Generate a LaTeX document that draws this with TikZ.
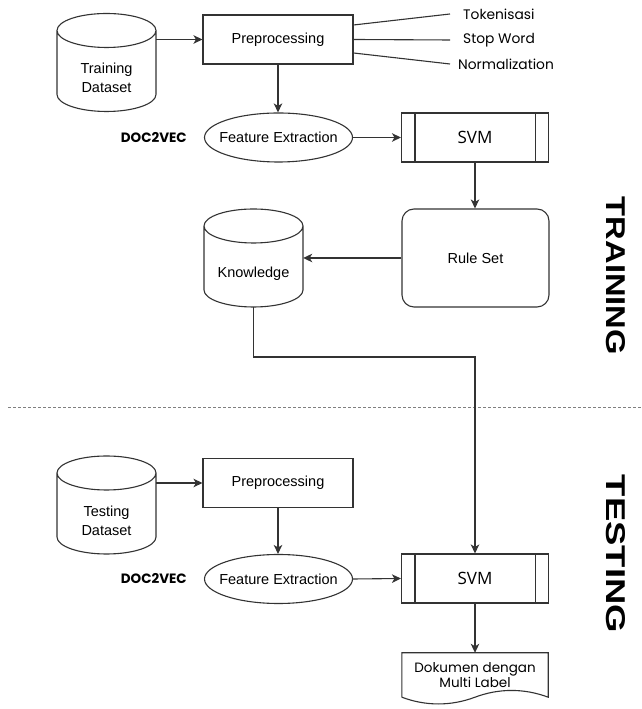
\documentclass[tikz,border=0pt]{standalone}
\usepackage{fontspec}
\setmainfont{Liberation Sans}
\newfontfamily\geofont{Poppins}
\newfontfamily\svmfont{Open Sans}
\usetikzlibrary{positioning,shapes.geometric,arrows.meta,calc}

\tikzset{
  lbl/.style={font=\fontsize{14.5}{19}\selectfont},
  ln/.style={line width=1.1pt, draw=black!80},
  arr/.style={ln, -{Stealth[length=9pt,width=8.5pt,inset=2.5pt]}},
  procbox/.style={ln, rectangle, minimum width=150pt, minimum height=49pt, inner sep=0},
  featell/.style={ln, ellipse, minimum width=148pt, minimum height=49pt, inner sep=0},
  svmbox/.style={ln, rectangle, minimum width=147pt, minimum height=49pt, inner sep=0,
    font=\svmfont\fontsize{17}{20}\selectfont},
  rulebox/.style={ln, rectangle, rounded corners=12pt, minimum width=147pt, minimum height=98pt, inner sep=0},
  steplbl/.style={inner sep=0, font=\geofont\fontsize{13.8}{16}\selectfont},
  veclbl/.style={inner sep=0, font=\geofont\bfseries\fontsize{13.5}{16}\selectfont},
  doclbl/.style={align=center, minimum width=146pt, minimum height=44pt, inner sep=0,
    font=\geofont\fontsize{13.5}{15.5}\selectfont},
  phaselbl/.style={rotate=-90, inner sep=0, font=\bfseries},
  pics/dbcyl/.style={code={
    \node[minimum width=99pt, minimum height=98pt, inner sep=0] (-box) {};
    \node[align=center, inner sep=0] (-text) at (0,-15.5) {#1};
    \draw[ln] (-49.5,32) -- (-49.5,-32)
      arc[start angle=180, end angle=360, x radius=49.5pt, y radius=17pt]
      -- (49.5,32)
      arc[start angle=0, end angle=180, x radius=49.5pt, y radius=17pt]
      arc[start angle=180, end angle=360, x radius=49.5pt, y radius=17pt];
  }}
}

\begin{document}
\begin{tikzpicture}[x=1pt, y=1pt, every node/.style={lbl}]
  \useasboundingbox[fill=white] (0,0) rectangle (641,709);

  % Training
  \pic (train) at (106.5,646.5) {dbcyl={Training\\Dataset}};
  \node[procbox] (pre1) at (278,669.5) {Preprocessing};
  \coordinate (tokend) at (450,695);
  \coordinate (stopend) at (450,669);
  \coordinate (normend) at (450,645);
  \node[steplbl, right=13pt of tokend] (tok) {Tokenisasi};
  \node[steplbl, right=13pt of stopend] (stop) {Stop Word};
  \node[steplbl, right=8pt of normend] (norm) {Normalization};
  \node[featell] (fe1) at (278.5,571.5) {\makebox[0pt]{Feature Extraction}};
  \node[veclbl, left=17pt of fe1] (vec1) {DOC2VEC};
  \node[svmbox] (svm1) at (475,571.5) {SVM};
  \node[rulebox] (rule) at (475.5,451) {Rule Set};
  \pic (know) at (253.5,451) {dbcyl=Knowledge};

  \draw[arr] (train-box.east |- pre1.west) -- (pre1.west);
  \draw[ln] ([yshift=14.5pt]pre1.east) -- (tokend);
  \draw[ln] (pre1.east) -- (stopend);
  \draw[ln] ([yshift=-13.5pt]pre1.east) -- (normend);
  \draw[arr] (pre1.south) -- (pre1.south |- fe1.north);
  \draw[arr] (fe1.east) -- (svm1.west);
  \draw[arr] (svm1.south) -- (svm1.south |- rule.north);
  \draw[arr] (rule.west) -- (know-box.east);

  % separator
  \draw[gray, line width=1pt, dash pattern=on 3pt off 2pt] (8,301) -- (641,301);

  % Testing
  \pic (test) at (106.5,204) {dbcyl={Testing\\Dataset}};
  \node[procbox] (pre2) at (278,226) {Preprocessing};
  \node[featell] (fe2) at (278.5,130) {\makebox[0pt]{Feature Extraction}};
  \node[veclbl, left=17pt of fe2] (vec2) {DOC2VEC};
  \node[svmbox] (svm2) at (475,130.5) {SVM};
  \node[doclbl] (doc) at (475,34) {Dokumen dengan\\Multi Label};
  \draw[ln] (doc.south west) -- (doc.north west) -- (doc.north east) -- (doc.south east)
    .. controls ($(doc.south east)+(-24,9)$) and ($(doc.south)+(24,9)$) .. (doc.south)
    .. controls ($(doc.south)+(-24,-9)$) and ($(doc.south west)+(24,-9)$) .. (doc.south west);

  \foreach \s in {svm1,svm2} {
    \draw[ln] ([xshift=14pt]\s.north west) -- ([xshift=14pt]\s.south west);
    \draw[ln] ([xshift=-14pt]\s.north east) -- ([xshift=-14pt]\s.south east);
  }

  \coordinate (kbend) at (475,352);
  \draw[arr] (know-box.south) |- (kbend) -- (svm2.north);
  \draw[arr] (test-box.east |- pre2.west) -- (pre2.west);
  \draw[arr] (pre2.south) -- (pre2.south |- fe2.north);
  \draw[arr] (fe2.east) -- (svm2.west);
  \draw[arr] (svm2.south) -- (doc.north);

  % phase labels
  \node[phaselbl] (train-lbl) at (616,433) {\resizebox{158pt}{19pt}{TRAINING}};
  \node[phaselbl] (test-lbl) at (616,155) {\resizebox{158pt}{19pt}{TESTING}};
\end{tikzpicture}
\end{document}
